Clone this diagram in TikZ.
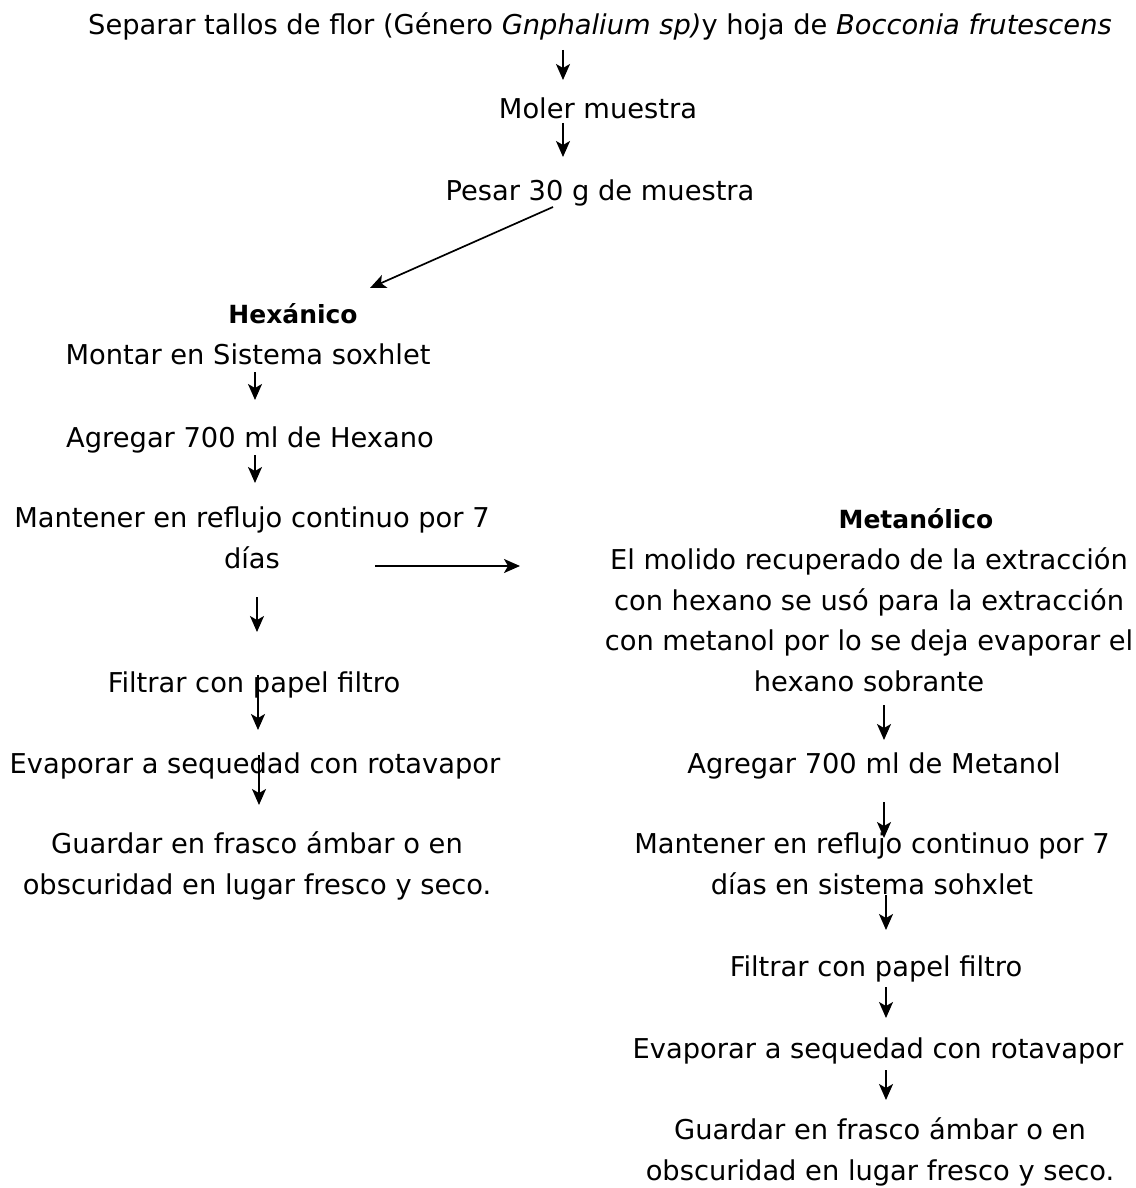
\documentclass[tikz,border=0pt]{standalone}
\usepackage{fontspec}
\setmainfont{DejaVu Sans}
\usetikzlibrary{arrows.meta,calc}
\begin{document}
\begin{tikzpicture}[x=1pt,y=-1pt,
  txt/.style={inner sep=0pt, anchor=base, align=center, font=\fontsize{27.3}{40.5}\selectfont},
  head/.style={txt, font=\fontsize{25}{40}\selectfont\bfseries},
  arr/.style={line width=1.7pt, -{Stealth[length=16pt,width=14pt,inset=4pt]}}]
\useasboundingbox[fill=white] (0,0) rectangle (1135,1188);
% top
\node[txt] (t) at (600,35) {Separar tallos de flor (Género \textit{Gnphalium sp)}y hoja de \textit{Bocconia frutescens}};
\node[txt] (m) at (598,118) {Moler muestra};
\node[txt] (p) at (600,200) {Pesar 30 g de muestra};
% left column
\node[head] (hex) at (293,323) {Hexánico};
\node[txt] (mon) at (248,364) {Montar en Sistema soxhlet};
\node[txt] (ag) at (250,447) {Agregar 700 ml de Hexano};
\node[txt] (man) at (252,568) {Mantener en reflujo continuo por 7\\días};
\node[txt] (fil) at (254,692) {Filtrar con papel filtro};
\node[txt] (eva) at (255,773) {Evaporar a sequedad con rotavapor};
\node[txt] (gua) at (257,894) {Guardar en frasco ámbar o en\\obscuridad en lugar fresco y seco.};
% right column
\node[head] (met) at (916,528) {Metanólico};
\node[txt] (mol) at (869,691) {El molido recuperado de la extracción\\con hexano se usó para la extracción\\con metanol por lo se deja evaporar el\\hexano sobrante};
\node[txt] (ag2) at (874,773) {Agregar 700 ml de Metanol};
\node[txt] (man2) at (872,894) {Mantener en reflujo continuo por 7\\días en sistema sohxlet};
\node[txt] (fil2) at (876,976) {Filtrar con papel filtro};
\node[txt] (eva2) at (878,1058) {Evaporar a sequedad con rotavapor};
\node[txt] (gua2) at (880,1180) {Guardar en frasco ámbar o en\\obscuridad en lugar fresco y seco.};
% connectors
\draw[arr] ($(t.base)+(-37,15)$) -- ($(m.base)+(-35,-38)$);
\draw[arr] ($(m.base)+(-35,5)$) -- ($(p.base)+(-37,-43)$);
\draw[arr] ($(p.base)+(-47,7)$) -- ($(hex.base)+(77,-35)$);
\draw[arr] ($(mon.base)+(7,8)$) -- ($(ag.base)+(5,-47)$);
\draw[arr] ($(ag.base)+(5,8)$) -- ($(man.base)+(3,-85)$);
\draw[arr] ($(man.base)+(123,-2)$) -- ($(mol.base)+(-349,-125)$);
\draw[arr] ($(man.base)+(5,29)$) -- ($(fil.base)+(3,-60)$);
\draw[arr] ($(fil.base)+(4,-17)$) -- ($(eva.base)+(3,-43)$);
\draw[arr] ($(eva.base)+(4,-18)$) -- ($(gua.base)+(2,-89)$);
\draw[arr] ($(mol.base)+(15,14)$) -- ($(ag2.base)+(10,-33)$);
\draw[arr] ($(ag2.base)+(10,29)$) -- ($(man2.base)+(12,-56)$);
\draw[arr] ($(man2.base)+(14,1)$) -- ($(fil2.base)+(10,-46)$);
\draw[arr] ($(fil2.base)+(10,11)$) -- ($(eva2.base)+(8,-40)$);
\draw[arr] ($(eva2.base)+(8,12)$) -- ($(gua2.base)+(6,-80)$);
\end{tikzpicture}
\end{document}
